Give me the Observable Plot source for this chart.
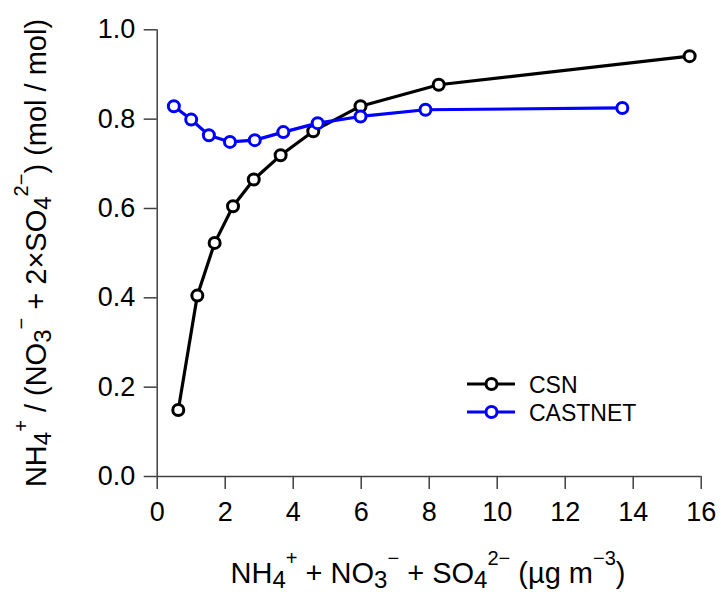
<!DOCTYPE html>
<html><head><meta charset="utf-8">
<script src="https://cdn.jsdelivr.net/npm/d3@7"></script>
<script src="https://cdn.jsdelivr.net/npm/@observablehq/plot@0.6"></script>
<style>body{margin:0;background:#fff;} svg{display:block;}</style>
</head><body><div id="chart"></div>
<script>
const csnX = [0.62, 1.18, 1.69, 2.23, 2.84, 3.63, 4.59, 5.98, 8.28, 15.66];
const csnY = [0.149, 0.405, 0.523, 0.605, 0.665, 0.719, 0.773, 0.829, 0.877, 0.941];
const castnetX = [0.49, 1.00, 1.52, 2.14, 2.87, 3.71, 4.72, 5.98, 7.89, 13.68];
const castnetY = [0.829, 0.799, 0.764, 0.749, 0.753, 0.771, 0.791, 0.806, 0.821, 0.825];
const seriesNames = ["CSN", "CASTNET"];
const seriesColors = ["black", "#0000ff"];
const xTicks = [0, 2, 4, 6, 8, 10, 12, 14, 16];
const yTicks = [0, 0.2, 0.4, 0.6, 0.8, 1.0];

const csn = csnX.map((x, i) => ({x, y: csnY[i]}));
const castnet = castnetX.map((x, i) => ({x, y: castnetY[i]}));
const FONT = "'Liberation Sans', Arial, Helvetica, sans-serif";
const axisColor = "#404040";

const svg = Plot.plot({
  width: 721, height: 592,
  marginLeft: 156.7, marginRight: 20.3, marginTop: 29.3, marginBottom: 116,
  x: {domain: [0, 16]},
  y: {domain: [0, 1]},
  style: {fontFamily: FONT, fontSize: "27px", background: "white", color: "black"},
  marks: [
    Plot.axisX({ticks: xTicks, tickSize: 13, tickPadding: 12, stroke: axisColor, strokeWidth: 1.5, fill: "black", label: null, fontSize: 27}),
    Plot.axisY({ticks: yTicks, tickSize: 13, tickPadding: 9, stroke: axisColor, strokeWidth: 1.5, fill: "black", label: null, fontSize: 27, tickFormat: d => d.toFixed(1)}),
    Plot.ruleX([0], {stroke: axisColor, strokeWidth: 1.5}),
    Plot.ruleY([0], {stroke: axisColor, strokeWidth: 1.5}),
    Plot.line(csn, {x: "x", y: "y", stroke: seriesColors[0], strokeWidth: 3.2}),
    Plot.dot(csn, {x: "x", y: "y", r: 5.5, fill: "white", stroke: seriesColors[0], strokeWidth: 3}),
    Plot.line(castnet, {x: "x", y: "y", stroke: seriesColors[1], strokeWidth: 3.2}),
    Plot.dot(castnet, {x: "x", y: "y", r: 5.5, fill: "white", stroke: seriesColors[1], strokeWidth: 3})
  ]
});
document.getElementById("chart").appendChild(svg);

const root = d3.select(svg);
root.selectAll('g[aria-label="x-axis tick label"], g[aria-label="y-axis tick label"]')
  .style("font-size", "27px").attr("font-size", 27)
  .selectAll("text").style("font-size", "27px");

function richText(g, parts, main, sub, sup, subShift, supShift) {
  let cur = 0;
  parts.forEach(([t, kind]) => {
    const target = kind === "sub" ? subShift : kind === "sup" ? supShift : 0;
    const size = kind === "sub" ? sub : kind === "sup" ? sup : main;
    g.append("tspan").attr("dy", target - cur).attr("font-size", size).text(t);
    cur = target;
  });
}

const xTitle = [["NH","n"],["4","sub"],["+","sup"],[" + NO","n"],["3","sub"],["\u2212","sup"],[" + SO","n"],["4","sub"],["2\u2212","sup"],[" (\u00b5g m","n"],["\u22123","sup"],[")","n"]];
const yTitle = [["NH","n"],["4","sub"],["+","sup"],[" / (NO","n"],["3","sub"],["\u2212","sup"],[" + 2\u00d7SO","n"],["4","sub"],["2\u2212","sup"],[") (mol / mol)","n"]];

const tx = root.append("text").attr("x", 428).attr("y", 583).attr("text-anchor", "middle")
  .attr("font-family", FONT).attr("fill", "black");
richText(tx, xTitle, 29, 24, 20, 5, -18);

const ty = root.append("text").attr("transform", "translate(46,253) rotate(-90)").attr("text-anchor", "middle")
  .attr("font-family", FONT).attr("fill", "black");
richText(ty, yTitle, 29, 24, 20, 5, -18);

// legend
const lg = root.append("g").attr("font-family", FONT).attr("text-anchor", "start");
seriesNames.forEach((name, i) => {
  const yy = 384 + i * 28;
  lg.append("line").attr("x1", 467).attr("x2", 515).attr("y1", yy).attr("y2", yy)
    .attr("stroke", seriesColors[i]).attr("stroke-width", 3);
  lg.append("circle").attr("cx", 491.5).attr("cy", yy).attr("r", 5.5)
    .attr("fill", "white").attr("stroke", seriesColors[i]).attr("stroke-width", 3);
  lg.append("text").attr("x", 529).attr("y", yy + 8.5).attr("font-size", 23).attr("fill", "black").text(name);
});
</script></body></html>
